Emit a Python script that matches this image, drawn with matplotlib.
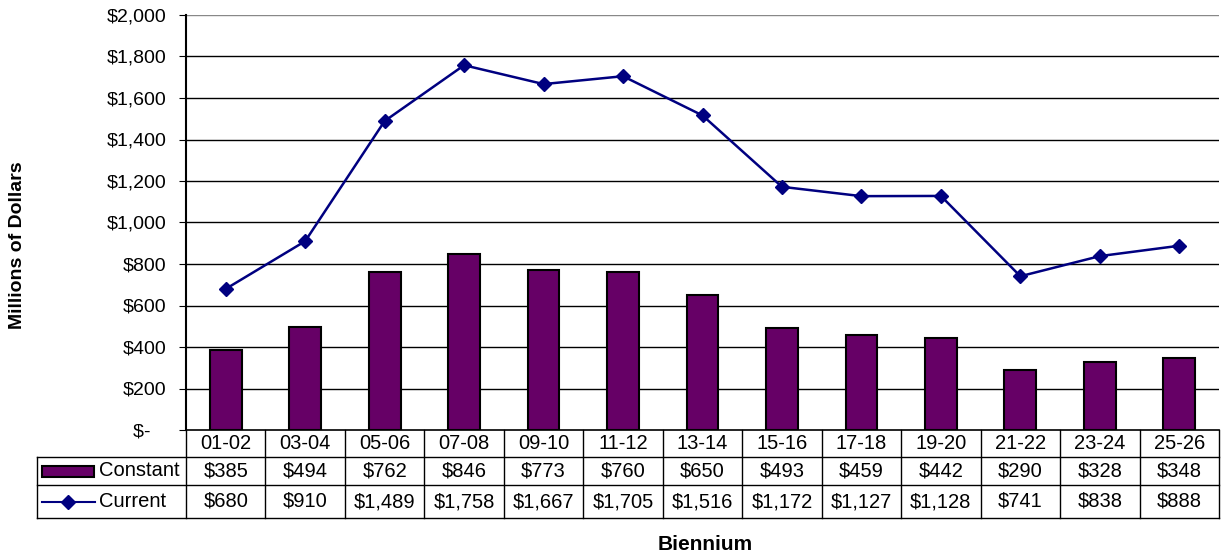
import numpy as np
import matplotlib.pyplot as plt
from matplotlib.patches import Rectangle
from matplotlib.lines import Line2D

plt.rcParams['font.family'] = ['Liberation Sans', 'DejaVu Sans']

# data
biennium = ['01-02', '03-04', '05-06', '07-08', '09-10', '11-12', '13-14',
            '15-16', '17-18', '19-20', '21-22', '23-24', '25-26']
constant = [385, 494, 762, 846, 773, 760, 650, 493, 459, 442, 290, 328, 348]
current = [680, 910, 1489, 1758, 1667, 1705, 1516, 1172, 1127, 1128, 741, 838, 888]

bar_color = '#660066'
line_color = '#000080'
tfs = 14.5

fig = plt.figure(figsize=(12.21, 5.58), dpi=100)
W, H = 1221, 558
x0, x1, ytop, ybot = 186, 1219, 15, 430
ax = fig.add_axes([x0 / W, 1 - ybot / H, (x1 - x0) / W, (ybot - ytop) / H])

x = np.arange(len(biennium))
ax.bar(x, constant, width=0.4, color=bar_color, edgecolor='black', linewidth=1.5, zorder=3)
ax.plot(x, current, color=line_color, lw=1.8, marker='D', ms=7, zorder=4)

ax.set_xlim(-0.5, len(biennium) - 0.5)
ax.set_ylim(0, 2000)
yt = np.arange(0, 2001, 200)
ax.set_yticks(yt)
ax.set_yticklabels(['$-   '] + ['${:,}'.format(v) for v in yt[1:]], fontsize=14)
ax.tick_params(axis='y', length=5, direction='out', pad=9)
ax.set_xticks([])
for v in yt[1:]:
    ax.axhline(v, color='black' if v < 2000 else '#888888', lw=1, zorder=1)
for s in ['top', 'right', 'bottom']:
    ax.spines[s].set_visible(False)
ax.spines['left'].set_linewidth(1.5)
ax.axhline(0, color='black', lw=1.2, zorder=5, clip_on=False)

# data table below the axes
def ay(p):
    return (ybot - p) / (ybot - ytop)

def axx(p):
    return (p - x0) / (x1 - x0)

kw = dict(transform=ax.transAxes, clip_on=False, color='black', lw=1)
r0, r1, r2, r3 = ay(430), ay(457), ay(485), ay(518)
left = axx(37)
ax.add_line(Line2D([left, 1], [r1, r1], **kw))
ax.add_line(Line2D([left, 1], [r2, r2], **kw))
ax.add_line(Line2D([left, 1], [r3, r3], **kw))
ax.add_line(Line2D([left, left], [r1, r3], **kw))
ncol = len(biennium)
for i in range(ncol + 1):
    xx = i / ncol
    ax.add_line(Line2D([xx, xx], [r0, r3], **kw))

for i in range(ncol):
    cx = (i + 0.5) / ncol
    ax.text(cx, (r0 + r1) / 2, biennium[i], transform=ax.transAxes, ha='center', va='center', fontsize=tfs)
    ax.text(cx, (r1 + r2) / 2, '${:,}'.format(constant[i]), transform=ax.transAxes, ha='center', va='center', fontsize=tfs)
    ax.text(cx, (r2 + r3) / 2, '${:,}'.format(current[i]), transform=ax.transAxes, ha='center', va='center', fontsize=tfs)

# legend keys in table
ax.add_patch(Rectangle((axx(42), ay(477)), axx(94) - axx(42), ay(466) - ay(477), transform=ax.transAxes,
                       facecolor=bar_color, edgecolor='black', lw=1.5, clip_on=False))
ax.text(axx(99), (r1 + r2) / 2, 'Constant', transform=ax.transAxes, ha='left', va='center', fontsize=tfs)
ax.add_line(Line2D([axx(42), axx(95)], [(r2 + r3) / 2] * 2, transform=ax.transAxes, clip_on=False,
                   color=line_color, lw=1.5))
ax.add_line(Line2D([axx(68)], [(r2 + r3) / 2], transform=ax.transAxes, clip_on=False,
                   color=line_color, marker='D', ms=7, lw=0))
ax.text(axx(99), (r2 + r3) / 2, 'Current', transform=ax.transAxes, ha='left', va='center', fontsize=tfs)

fig.text(18 / W, 1 - 245 / H, 'Millions of Dollars', rotation=90, ha='center', va='center',
         fontsize=14, fontweight='bold')
fig.text(705 / W, 1 - 545 / H, 'Biennium', ha='center', va='center', fontsize=15, fontweight='bold')

fig.savefig('out.png', dpi=100)
